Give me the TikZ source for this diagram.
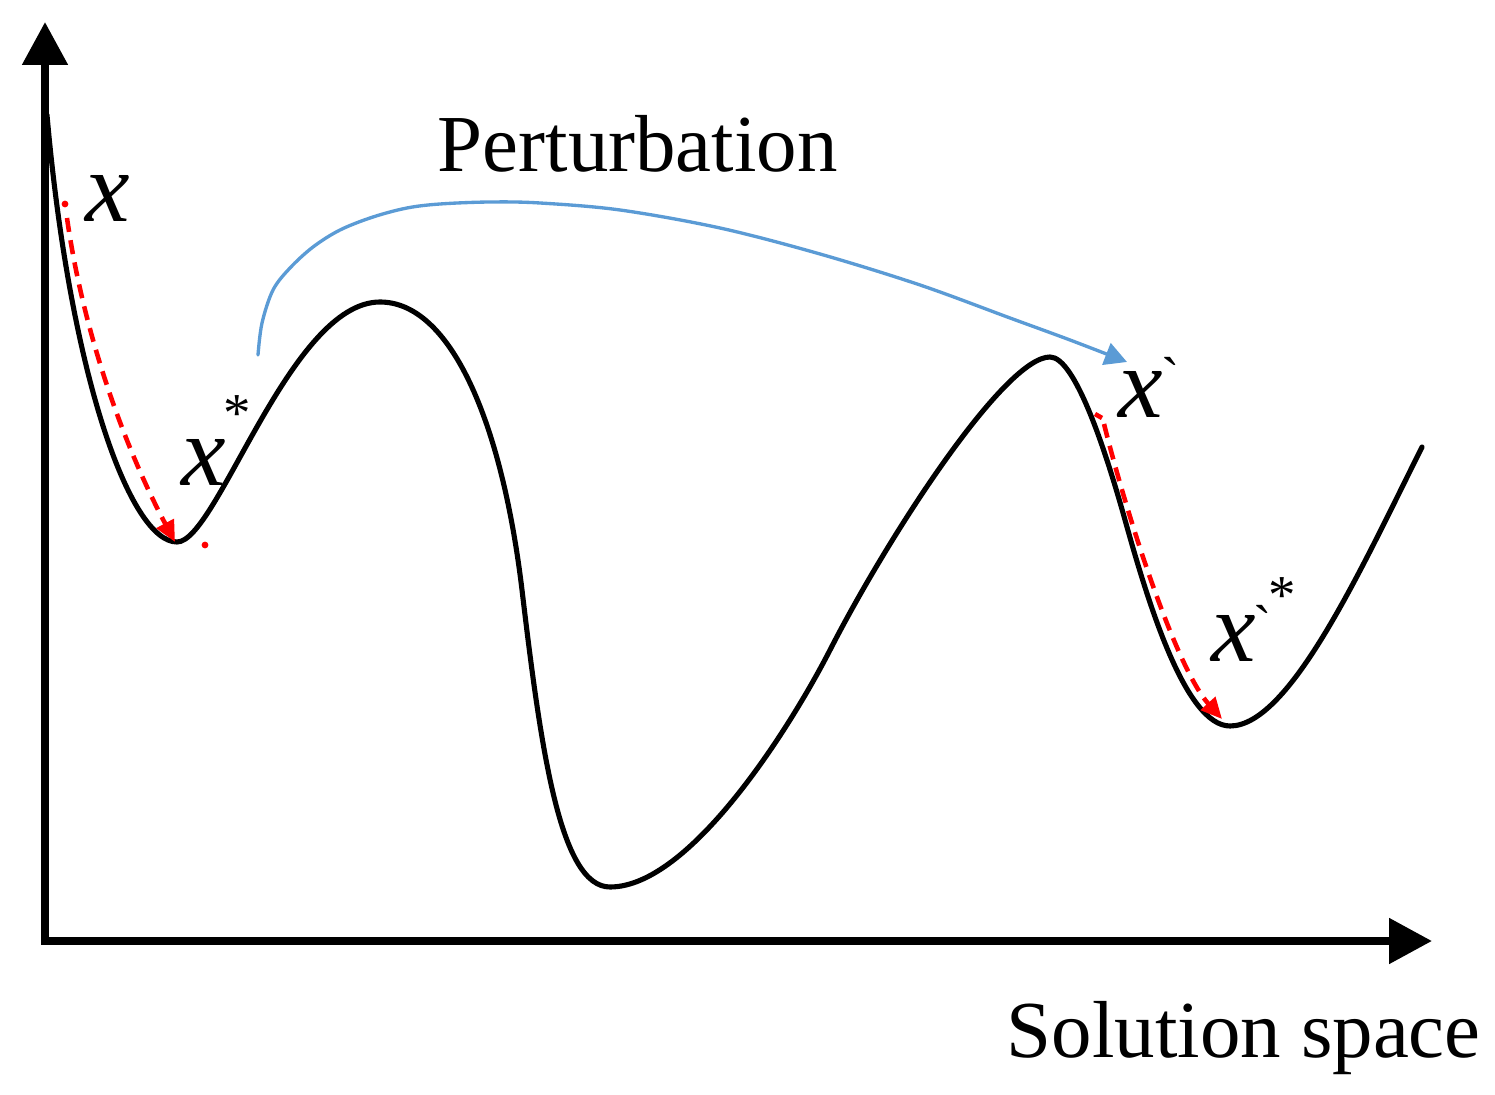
\documentclass[tikz,border=0pt]{standalone}
\usepackage{fontspec}
\setmainfont{Liberation Serif}
\newfontfamily\rawserif{Liberation Serif}[Ligatures=TeXOff]
\usetikzlibrary{arrows.meta}
\definecolor{pertblue}{RGB}{91,155,213}
\begin{document}
\begin{tikzpicture}[x=0.01cm,y=-0.01cm,
  axisline/.style={line width=2.3pt, line join=miter},
  curveline/.style={line width=1.45pt, line join=round, line cap=round},
  redarrow/.style={red, line width=1.3pt, dash pattern=on 4pt off 2.4pt, -{Triangle[length=6pt,width=5.4pt]}},
  bluearrow/.style={pertblue, line width=0.95pt, line cap=round, -{Triangle[length=6.3pt,width=6.5pt]}},
  lbl/.style={inner sep=0pt, anchor=base west, font=\fontsize{23}{28}\selectfont},
  xl/.style={inner sep=0pt, anchor=base west, font=\fontsize{28.5}{32}\selectfont\itshape},
  supl/.style={inner sep=0pt, anchor=north, font=\fontsize{15.6}{18}\selectfont},
  reddot/.style={fill=red, draw=none}]
\useasboundingbox (0,0) rectangle (1495,1095);
% axes
\coordinate (O) at (45,941);
\coordinate (ytip) at (45,22);
\coordinate (xtip) at (1432,941);
\draw[axisline, {Triangle[length=12.2pt,width=12.5pt]}-{Triangle[length=12.2pt,width=12.5pt]}] (ytip) -- (O) -- (xtip);
% landscape curve
\coordinate (c0) at (47,115);
\coordinate (m1) at (177,542);
\coordinate (p1) at (380,302);
\coordinate (i1) at (522,590);
\coordinate (m2) at (610,887);
\coordinate (i2) at (830,650);
\coordinate (p2) at (1050,357);
\coordinate (i3) at (1125,520);
\coordinate (m3) at (1230,726);
\coordinate (c1) at (1422,447);
\draw[curveline] (c0) .. controls (70,375) and (130,542) .. (m1)
  .. controls (217,542) and (290,302) .. (p1)
  .. controls (450,302) and (501.6,420) .. (i1)
  .. controls (541,750) and (560,887) .. (m2)
  .. controls (690,887) and (790,728) .. (i2)
  .. controls (890,533) and (1005,357) .. (p2)
  .. controls (1075,357) and (1105.4,450) .. (i3)
  .. controls (1147.4,600) and (1185,726) .. (m3)
  .. controls (1290,726) and (1362,567) .. (c1);
% red local search arrows
\coordinate (d1) at (65,204);
\fill[reddot] (d1) circle (3.4);
\coordinate (r1s) at (67,218);
\coordinate (r1e) at (175,542);
\draw[redarrow] (r1s) .. controls (84,338) and (127,452) .. (r1e);
\coordinate (d2) at (205,545);
\fill[reddot] (d2) circle (3.4);
\coordinate (h1) at (1095,414);
\coordinate (h2) at (1102,418);
\draw[red, line width=1.3pt] (h1) -- (h2);
\coordinate (r2s) at (1104,424);
\coordinate (r2e) at (1222,719);
\draw[redarrow] (r2s) .. controls (1129,524) and (1177,669) .. (r2e);
% perturbation arrow
\draw[bluearrow] plot[smooth, tension=0.55] coordinates {(258,355) (262,323) (273,290) (290,268) (313,247) (340,230) (373,217) (407,208) (440,204) (490,202) (540,203) (620,210) (720,228) (820,254) (920,285) (1010,318) (1070,340) (1127,362)};
% labels
\node[lbl] (pert) at (437,172) {Perturbation};
\node[lbl] (sol) at (1006,1057) {Solution space};
\node[xl] (x0) at (85,222) {x};
\node[xl] (x1) at (181,486) {x};
\node[supl] (x1s) at (237,395) {*};
\node[xl] (x2) at (1118,418) {x};
\node[supl] (x2g) at (1171,357) {\rawserif`};
\node[xl] (x3) at (1211,662) {x};
\node[supl] (x3g) at (1263,605) {\rawserif`};
\node[supl] (x3s) at (1282,577) {*};
\end{tikzpicture}
\end{document}
